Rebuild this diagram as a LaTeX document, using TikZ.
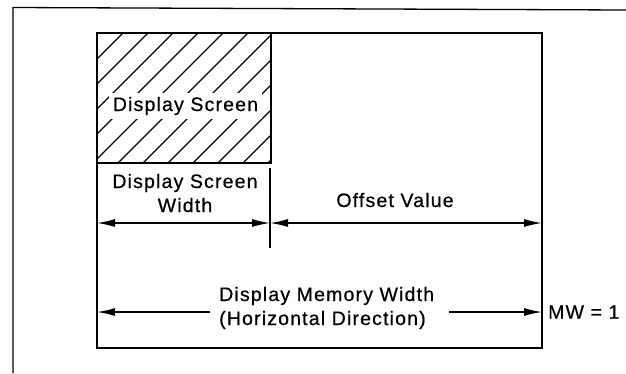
\documentclass[tikz,border=0pt]{standalone}
\usepackage{fontspec}
\setmainfont{Liberation Sans}[LetterSpace=6,FakeBold=0.6]
\usetikzlibrary{arrows.meta}
\begin{document}
\begin{tikzpicture}[x=1pt,y=-1pt,
  lbl/.style={font=\fontsize{19.5}{24}\selectfont, inner sep=0pt},
  outerframe/.style={line width=1.3pt},
  boxline/.style={line width=2.2pt},
  hatchline/.style={line width=1.2pt},
  divider/.style={line width=1.1pt},
  dimline/.style={line width=1.4pt},
  dimtip/.tip={Latex[length=18pt,width=8pt]}]
\useasboundingbox (0,0) rectangle (626,373);
% outer frame (only top and left edges visible)
\draw[outerframe] (626,10) -- (13,7.5) -- (13,373);
% hatch of display screen
\begin{scope}
  \clip (97,33) rectangle (271,163);
  \foreach \c in {156,181,...,431}
    \draw[hatchline] ({\c-20},20) -- ({\c-180},180);
\end{scope}
\node[lbl, fill=white, inner sep=4pt, anchor=base] (ds) at (185.5,111) {Display Screen};
% rectangles
\draw[boxline] (97,33) rectangle (271,163);
\draw[boxline] (97,33) rectangle (542,348);
% divider
\coordinate (dtop) at (270,168);
\coordinate (dbot) at (270,248);
\draw[divider] (dtop) -- (dbot);
% labels
\node[lbl, anchor=base, align=center] (dsw) at (185,212) {Display Screen\\Width};
\node[lbl, anchor=base] (ov) at (395,207) {Offset Value};
\node[lbl, anchor=base west, align=left] (dmw) at (219,325) {Display Memory Width\\(Horizontal Direction)};
\node[lbl, anchor=west] (mw) at (548,312) {MW = 1};
% dimension arrows
\coordinate (a1) at (97,223);
\coordinate (a2) at (270,223);
\coordinate (a3) at (542,223);
\draw[dimline, dimtip-dimtip] (a1) -- (a2);
\draw[dimline, dimtip-dimtip] (a2) -- (a3);
\coordinate (b1) at (97,312);
\coordinate (b2) at (210,312);
\coordinate (b3) at (449,312);
\coordinate (b4) at (542,312);
\draw[dimline, -dimtip] (b2) -- (b1);
\draw[dimline, -dimtip] (b3) -- (b4);
\end{tikzpicture}
\end{document}
